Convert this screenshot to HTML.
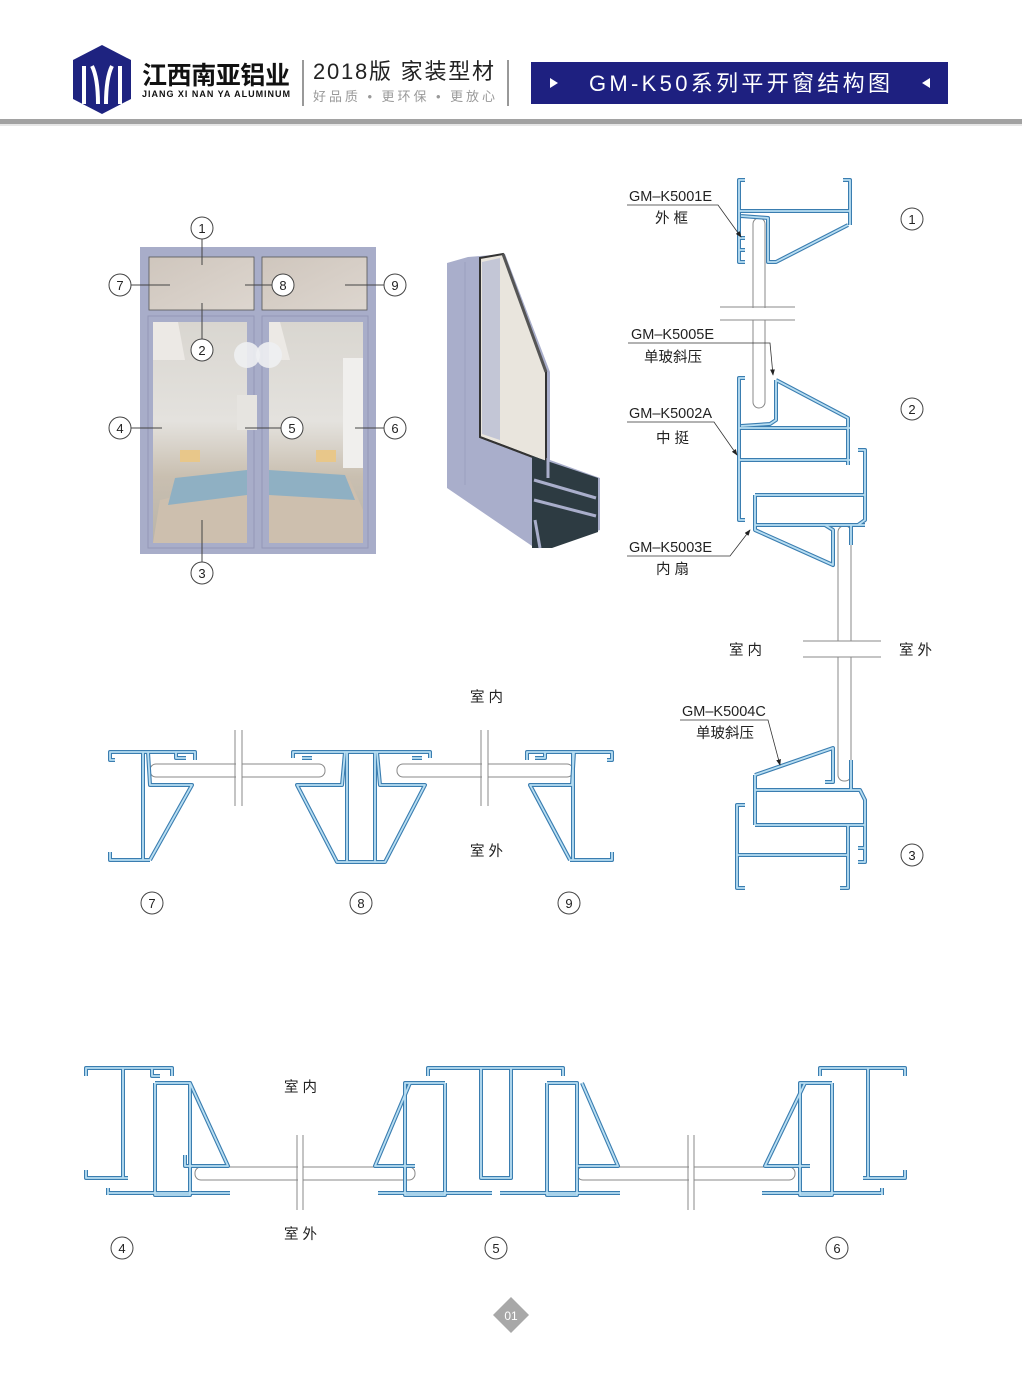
<!DOCTYPE html>
<html><head><meta charset="utf-8"><style>
body{margin:0;background:#fff;}
svg{display:block;font-family:"Liberation Sans","Noto Sans CJK SC",sans-serif;}
.lb{font-size:14.5px;fill:#222}
.cn{font-size:13px;fill:#222;text-anchor:middle}
</style></head><body>
<svg width="1022" height="1377" viewBox="0 0 1022 1377" xmlns="http://www.w3.org/2000/svg">
<defs>
<linearGradient id="room" x1="0" y1="0" x2="0" y2="1">
<stop offset="0" stop-color="#d9d6d0"/><stop offset="0.45" stop-color="#e4e2de"/><stop offset="0.7" stop-color="#c9bfb0"/><stop offset="1" stop-color="#b9b4aa"/></linearGradient>
<linearGradient id="top" x1="0" y1="0" x2="1" y2="1"><stop offset="0" stop-color="#cfc6bd"/><stop offset="1" stop-color="#ddd6cf"/></linearGradient>
<marker id="ar" markerWidth="8" markerHeight="6" refX="7" refY="3" orient="auto"><path d="M0,0 L8,3 L0,6Z" fill="#222"/></marker>
</defs>
<polygon points="102,45 131,60 131,99 102,114 73,99 73,60" fill="#1e2380"/>
<path d="M84,66 L84,104 M92,66 Q98,78 98,104 M112,66 Q106,78 106,104 M120,66 L120,104" stroke="#fff" stroke-width="4" fill="none"/>
<text x="142" y="84" font-size="25" font-weight="bold" fill="#111" textLength="148">江西南亚铝业</text>
<text x="142" y="97" font-size="9" font-weight="bold" fill="#111" textLength="148">JIANG XI NAN YA ALUMINUM</text>
<line x1="303" y1="60" x2="303" y2="106" stroke="#777" stroke-width="1.5"/>
<text x="313" y="79" font-size="22" fill="#222" textLength="181">2018版 家装型材</text>
<text x="313" y="101" font-size="13" fill="#999" textLength="182">好品质 • 更环保 • 更放心</text>
<line x1="508" y1="60" x2="508" y2="106" stroke="#777" stroke-width="1.5"/>
<rect x="531" y="62" width="417" height="42" fill="#1e2080"/>
<text x="589" y="91" font-size="22" fill="#fff" textLength="301">GM-K50系列平开窗结构图</text>
<polygon points="550,78 558,83 550,88" fill="#fff"/><polygon points="930,78 922,83 930,88" fill="#fff"/>
<rect x="0" y="119" width="1022" height="5" fill="#a2a2a2"/>
<rect x="0" y="124" width="1022" height="2" fill="#e6e6e6"/>

<rect x="140" y="247" width="236" height="307" fill="#a8adc9"/>
<rect x="149" y="257" width="105" height="53" fill="url(#top)" stroke="#555" stroke-width="0.8"/>
<rect x="262" y="257" width="105" height="53" fill="url(#top)" stroke="#555" stroke-width="0.8"/>
<rect x="148" y="316" width="106" height="232" fill="none" stroke="#9398b6" stroke-width="1"/>
<rect x="262" y="316" width="106" height="232" fill="none" stroke="#9398b6" stroke-width="1"/>
<rect x="153" y="322" width="94" height="221" fill="url(#room)"/>
<rect x="269" y="322" width="94" height="221" fill="url(#room)"/>
<path d="M153,322 L178,322 L185,360 L153,360Z M269,322 L280,322 L290,360 L269,360Z" fill="#ece9e5"/>
<rect x="343" y="358" width="20" height="110" fill="#f0efed"/>
<rect x="237" y="395" width="20" height="35" fill="#e6e4e0"/>
<path d="M160,500 L247,480 L247,543 L153,543Z M269,480 L350,480 L363,510 L363,543 L269,543Z" fill="#cdbfae"/>
<path d="M175,478 L247,470 L247,495 L168,505Z M269,470 L345,475 L355,500 L269,495Z" fill="#8fb0c3"/>
<rect x="180" y="450" width="20" height="12" fill="#e8c78a"/><rect x="316" y="450" width="20" height="12" fill="#e8c78a"/>
<circle cx="247" cy="355" r="13" fill="#eef0f2" opacity="0.9"/><circle cx="269" cy="355" r="13" fill="#eef0f2" opacity="0.9"/>
<g stroke="#444" stroke-width="1" fill="none">
<line x1="202" y1="239" x2="202" y2="265"/><line x1="131" y1="285" x2="170" y2="285"/><line x1="245" y1="285" x2="272" y2="285"/><line x1="345" y1="285" x2="384" y2="285"/>
<line x1="202" y1="303" x2="202" y2="339"/><line x1="131" y1="428" x2="162" y2="428"/><line x1="245" y1="428" x2="281" y2="428"/><line x1="355" y1="428" x2="384" y2="428"/><line x1="202" y1="520" x2="202" y2="562"/>
</g>
<g stroke="#444" stroke-width="1" fill="#fff">
<circle cx="202" cy="228" r="11"/><circle cx="120" cy="285" r="11"/><circle cx="283" cy="285" r="11"/><circle cx="395" cy="285" r="11"/><circle cx="202" cy="350" r="11"/><circle cx="120" cy="428" r="11"/><circle cx="292" cy="428" r="11"/><circle cx="395" cy="428" r="11"/><circle cx="202" cy="573" r="11"/>
<circle cx="912" cy="219" r="11"/><circle cx="912" cy="409" r="11"/><circle cx="912" cy="855" r="11"/>
<circle cx="152" cy="903" r="11"/><circle cx="361" cy="903" r="11"/><circle cx="569" cy="903" r="11"/>
<circle cx="122" cy="1248" r="11"/><circle cx="496" cy="1248" r="11"/><circle cx="837" cy="1248" r="11"/>
</g>
<g class="cn">
<text x="202" y="233">1</text><text x="120" y="290">7</text><text x="283" y="290">8</text><text x="395" y="290">9</text><text x="202" y="355">2</text><text x="120" y="433">4</text><text x="292" y="433">5</text><text x="395" y="433">6</text><text x="202" y="578">3</text>
<text x="912" y="224">1</text><text x="912" y="414">2</text><text x="912" y="860">3</text>
<text x="152" y="908">7</text><text x="361" y="908">8</text><text x="569" y="908">9</text>
<text x="122" y="1253">4</text><text x="496" y="1253">5</text><text x="837" y="1253">6</text>
</g>

<polygon points="447,263 468,257 505,254 550,372 550,460 600,478 600,530 545,548 535,548 447,488" fill="#a9aecb"/>
<line x1="465" y1="262" x2="465" y2="485" stroke="#9aa0bf" stroke-width="1"/>
<polygon points="480,258 503,254 546,372 546,462 480,437" fill="#e9e5dd" stroke="#333" stroke-width="2"/>
<polygon points="482,262 500,258 500,440 482,434" fill="#c3c6d6"/>
<line x1="503" y1="254" x2="546" y2="372" stroke="#555" stroke-width="3"/>
<line x1="480" y1="437" x2="546" y2="462" stroke="#333" stroke-width="2"/>
<polygon points="532,456 598,478 598,532 552,548 532,548" fill="#2d3b42"/>
<path d="M534,480 L596,498 M534,500 L596,516 M548,458 L548,478" stroke="#a9aecb" stroke-width="3" fill="none"/>
<path d="M535,520 L540,548" stroke="#a9aecb" stroke-width="3"/>

<g fill="#fff" stroke="#888" stroke-width="1">
<rect x="753" y="218" width="12" height="190" rx="6"/>
<rect x="838" y="526" width="13" height="255" rx="6"/>
<rect x="150" y="764" width="175" height="13" rx="6"/><rect x="397" y="764" width="176" height="13" rx="6"/>
<rect x="195" y="1167" width="220" height="13" rx="6"/><rect x="577" y="1167" width="218" height="13" rx="6"/>
</g>
<g fill="#fff" stroke="none">
<rect x="720" y="308" width="75" height="12"/><rect x="803" y="641" width="78" height="16"/>
<rect x="236" y="728" width="6" height="80"/><rect x="482" y="728" width="6" height="80"/>
<rect x="298" y="1133" width="5" height="78"/><rect x="689" y="1133" width="5" height="78"/>
</g>
<g stroke="#888" stroke-width="1">
<line x1="720" y1="307" x2="795" y2="307"/><line x1="720" y1="320" x2="795" y2="320"/>
<line x1="803" y1="641" x2="881" y2="641"/><line x1="803" y1="657" x2="881" y2="657"/>
<line x1="235" y1="730" x2="235" y2="806"/><line x1="242" y1="730" x2="242" y2="806"/>
<line x1="481" y1="730" x2="481" y2="806"/><line x1="488" y1="730" x2="488" y2="806"/>
<line x1="297" y1="1135" x2="297" y2="1210"/><line x1="303" y1="1135" x2="303" y2="1210"/>
<line x1="688" y1="1135" x2="688" y2="1210"/><line x1="694" y1="1135" x2="694" y2="1210"/>
</g>

<g fill="none" stroke="#3a7db0" stroke-width="4" stroke-linejoin="round">
<g id="P">
<path d="M745,180 L739,180 L739,262 L745,262 M739,211 L850,211 M843,180 L850,180 L850,225 M741,216 L768,218 L768,262 L776,262 L848,225 M739,238 L745,238 M739,250 L745,250"/>
<path d="M745,378 L739,378 L739,520 L745,520 M776,380 L776,420 L770,424 L741,426 M776,380 L848,418 L848,465 M739,428 L850,428 M739,460 L850,460 M858,450 L865,450 L865,520 L858,525"/>
<path d="M755,495 L865,495 M755,495 L755,530 L833,565 L833,530 L825,525 M755,525 L865,525 M851,525 L851,545"/>
<path d="M755,775 L833,748 L833,782 L825,782 M755,775 L755,825 M755,790 L860,790 L865,800 L865,855 M755,825 L865,825 M851,760 L851,790 M745,805 L737,805 L737,888 L745,888 M737,855 L848,855 M848,825 L848,888 L840,888 M858,848 L865,848 L865,862 L858,862"/>
<path d="M115,760 L110,760 L110,752 L195,752 L195,760 M143,752 L143,860 M110,852 L110,860 L150,860 M148,752 L150,785 L192,785 L150,860 M176,752 L176,758 L186,758"/>
<path d="M293,758 L293,752 L430,752 L430,758 M347,752 L347,862 M375,752 L375,862 M345,752 L342,785 L297,785 L337,862 L385,862 L425,785 L380,785 L377,752 M302,758 L312,758 M412,758 L422,758"/>
<path d="M607,760 L612,760 L612,752 L527,752 L527,760 M573,752 L573,860 M612,852 L612,860 L570,860 M574,752 L572,785 L530,785 L570,860 M545,752 L545,758 L535,758"/>
<path d="M86,1076 L86,1068 L172,1068 L172,1076 M123,1068 L123,1178 M86,1170 L86,1178 L128,1178 M155,1083 L155,1195 L190,1195 L190,1083 L155,1083 M190,1083 L228,1166 L185,1166 L185,1155 M108,1195 L108,1188 M108,1193 L230,1193 M152,1068 L152,1076 L160,1076"/>
<path d="M428,1076 L428,1068 L563,1068 L563,1076 M481,1068 L481,1178 L511,1178 L511,1068 M445,1083 L445,1195 L405,1195 L405,1083 L445,1083 M410,1083 L375,1166 L415,1166 M547,1083 L547,1195 L577,1195 L577,1083 L547,1083 M582,1083 L618,1166 L577,1166 M378,1193 L492,1193 M500,1193 L620,1193"/>
<path d="M905,1076 L905,1068 L820,1068 L820,1076 M868,1068 L868,1178 M905,1170 L905,1178 L863,1178 M832,1083 L832,1195 L800,1195 L800,1083 L832,1083 M805,1083 L765,1166 L810,1166 M882,1195 L882,1188 M762,1193 L882,1193"/>
</g></g>
<use href="#P" fill="none" stroke="#b8def2" stroke-width="1.8" stroke-linejoin="round"/>

<g stroke="#333" stroke-width="0.8" fill="none" marker-end="url(#ar)">
<path d="M627,205 L718,205 L741,237"/><path d="M628,343 L770,343 L773,375"/><path d="M627,422 L714,422 L737,455"/>
<path d="M627,556 L730,556 L750,530"/><path d="M680,720 L768,720 L780,765"/>
</g>
<g class="lb">
<text x="629" y="201">GM–K5001E</text><text x="655" y="223">外 框</text>
<text x="631" y="339">GM–K5005E</text><text x="644" y="362">单玻斜压</text>
<text x="629" y="418">GM–K5002A</text><text x="656" y="443">中 挺</text>
<text x="629" y="552">GM–K5003E</text><text x="656" y="574">内 扇</text>
<text x="729" y="655">室 内</text><text x="899" y="655">室 外</text>
<text x="682" y="716">GM–K5004C</text><text x="696" y="738">单玻斜压</text>
<text x="470" y="702">室 内</text><text x="470" y="856">室 外</text>
<text x="284" y="1092">室 内</text><text x="284" y="1239">室 外</text>
</g>
<polygon points="511,1297 529,1315 511,1333 493,1315" fill="#a8a8a8"/>
<text x="511" y="1320" font-size="12" fill="#fff" text-anchor="middle">01</text>
</svg>
</body></html>
